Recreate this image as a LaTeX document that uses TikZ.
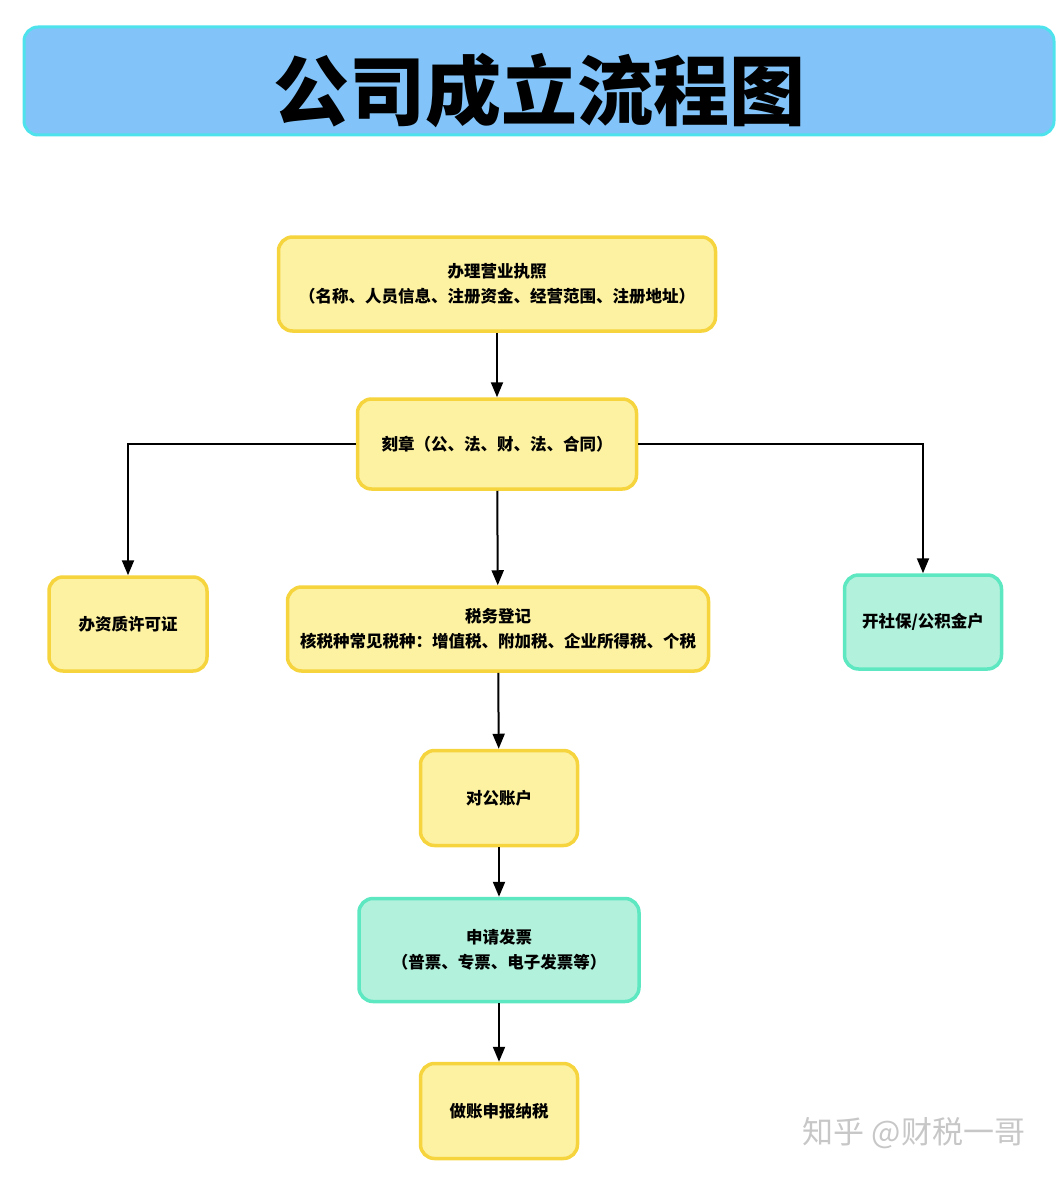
\documentclass[tikz,border=0pt]{standalone}
\usepackage{fontspec}
\newfontfamily\cjk{Noto Sans CJK SC}
\usepackage{tikz}
\usetikzlibrary{arrows.meta}
\definecolor{titleblue}{HTML}{82C4FA}
\definecolor{titleedge}{HTML}{4EE2EC}
\definecolor{yfill}{HTML}{FDF1A2}
\definecolor{yedge}{HTML}{F6D43E}
\definecolor{gfill}{HTML}{B2F1DB}
\definecolor{gedge}{HTML}{5EE8C2}
\tikzset{
  ybox/.style={draw=yedge,fill=yfill,line width=3.5pt,rounded corners=14pt,
    align=center,inner sep=0pt,font=\cjk\bfseries\fontsize{16.5}{25}\selectfont},
  gbox/.style={ybox,draw=gedge,fill=gfill},
  link/.style={line width=2pt,-{Stealth[inset=0pt,length=15pt,width=12pt]}}
}

\begin{document}
\begin{tikzpicture}[x=1pt,y=-1pt]
\useasboundingbox (0,0) rectangle (1056,1177);
\node[draw=titleedge,fill=titleblue,line width=3pt,rounded corners=14pt,
  minimum width=1030,minimum height=108,inner sep=0pt,text height=86pt,text depth=9pt,
  font=\cjk\bfseries\fontsize{76}{76}\selectfont] (title) at (539,81) {公司成立流程图};
\node[ybox,minimum width=437,minimum height=94] (lic) at (497,284)
  {办理营业执照\\（名称、人员信息、注册资金、经营范围、注册地址）};
\node[ybox,minimum width=279,minimum height=90] (seal) at (497,444)
  {刻章（公、法、财、法、合同）};
\node[ybox,minimum width=158,minimum height=94] (qual) at (128,624) {办资质许可证};
\node[ybox,minimum width=421,minimum height=84] (tax) at (498,629)
  {税务登记\\核税种常见税种：增值税、附加税、企业所得税、个税};
\node[gbox,minimum width=157,minimum height=94] (ssf) at (923,622) {开社保/公积金户};
\node[ybox,minimum width=157,minimum height=95] (bank) at (499,798) {对公账户};
\node[gbox,minimum width=280,minimum height=103] (inv) at (499,950)
  {申请发票\\（普票、专票、电子发票等）};
\node[ybox,minimum width=157,minimum height=95] (acct) at (499,1111) {做账申报纳税};
\node[text=black!22,font=\cjk\fontsize{31}{31}\selectfont] (mark) at (914,1133) {知乎 @财税一哥};
\draw[link] (lic) -- (seal);
\draw[link] (seal.west) -| (qual.north);
\draw[link] (seal.east) -| (ssf.north);
\draw[link] (seal) -- (tax);
\draw[link] (tax) -- (bank);
\draw[link] (bank) -- (inv);
\draw[link] (inv) -- (acct);
\end{tikzpicture}
\end{document}
